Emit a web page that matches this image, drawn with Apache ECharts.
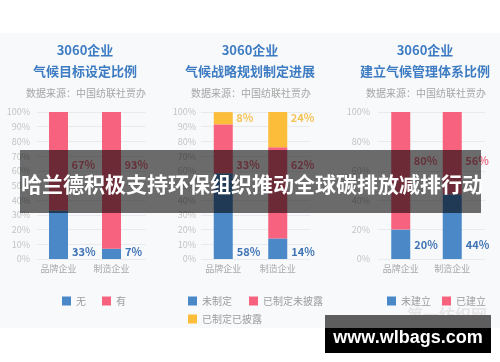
<!DOCTYPE html>
<html>
<head>
<meta charset="utf-8">
<script src="https://cdn.jsdelivr.net/npm/echarts@6/dist/echarts.min.js"></script>
<style>
html,body{margin:0;padding:0;background:#ffffff;}
#c{width:500px;height:362px;}
</style>
</head>
<body>
<div id="c"></div>
<script>
// ---- data ----
const categories = ['品牌企业', '制造企业'];

// Panel 1: 气候目标设定比例
const p1Names = ['无', '有'];
const p1None = [33, 7];
const p1Has = [67, 93];

// Panel 2: 气候战略规划制定进展
const p2Names = ['未制定', '已制定未披露', '已制定已披露'];
const p2NotSet = [58.3, 14];
const p2SetUndisclosed = [33.3, 62];
const p2SetDisclosed = [8.3, 24];

// Panel 3: 建立气候管理体系比例
const p3Names = ['未建立', '已建立'];
const p3NotBuilt = [20, 44];
const p3Built = [80, 56];

const titleTop = '3060企业';
const panelTitles = ['气候目标设定比例', '气候战略规划制定进展', '建立气候管理体系比例'];
const sourceText = '数据来源：中国纺联社贾办';
const bannerText = '哈兰德积极支持环保组织推动全球碳排放减排行动';
const siteText = 'www.wlbags.com';
const faintMark = '第一纺织网';

// ---- styles ----
const BLUE = '#4a88c8';
const PINK = '#f7627e';
const YELLOW = '#fbbd3a';
const TITLE = '#3d7cc2';
const FONT = '"Noto Sans CJK SC", "Noto Sans", sans-serif';

const chart = echarts.init(document.getElementById('c'));

const gridTop = 112, gridBottom = 103;
const panels = [
  {axL: 37, axR: 146, bL: 32, bR: 138, interval: 10, margin: 7, cx: 85},
  {axL: 201, axR: 310, bL: 196, bR: 305, interval: 10, margin: 5, cx: 250},
  {axL: 378, axR: 485, bL: 375, bR: 478, interval: 20, margin: 8, cx: 425}
];

const grid = [], xAxis = [], yAxis = [];
panels.forEach((p) => {
  grid.push({left: p.axL, width: p.axR - p.axL, top: gridTop, bottom: gridBottom});
  grid.push({left: p.bL, width: p.bR - p.bL, top: gridTop, bottom: gridBottom});
  const ag = grid.length - 2, bg = grid.length - 1;
  xAxis.push({type: 'category', gridIndex: ag, data: categories, show: false});
  xAxis.push({
    type: 'category', gridIndex: bg, data: categories,
    axisLine: {show: false}, axisTick: {show: false},
    axisLabel: {color: '#a8a8a8', fontSize: 9, margin: 5, fontFamily: FONT}
  });
  yAxis.push({
    type: 'value', gridIndex: ag, min: 0, max: 100, interval: p.interval,
    axisLine: {show: false}, axisTick: {show: false},
    axisLabel: {formatter: '{value}%', color: '#c4c4c4', fontSize: 9, margin: p.margin, fontFamily: FONT},
    splitLine: {lineStyle: {color: '#e9eaee', width: 1}}
  });
  yAxis.push({type: 'value', gridIndex: bg, min: 0, max: 100, show: false});
});

function pct(v) { return Math.round(v) + '%'; }

function blueBar(name, data, axisIdx, offY) {
  return {
    name: name, type: 'bar', stack: 's' + axisIdx, xAxisIndex: axisIdx, yAxisIndex: axisIdx,
    barWidth: 19, data: data, itemStyle: {color: BLUE},
    label: {
      show: true, position: ['100%', '100%'], align: 'left', verticalAlign: 'bottom',
      offset: [4, offY], color: '#3f73b4', fontSize: 11, fontWeight: 'bold', fontFamily: FONT,
      formatter: (p) => pct(p.value)
    }
  };
}
function plainBar(name, data, axisIdx, color) {
  return {
    name: name, type: 'bar', stack: 's' + axisIdx, xAxisIndex: axisIdx, yAxisIndex: axisIdx,
    barWidth: 19, data: data, itemStyle: {color: color}
  };
}
function labelSeries(data, level, axisIdx, color) {
  return {
    type: 'scatter', xAxisIndex: axisIdx, yAxisIndex: axisIdx, symbolSize: 0, silent: true,
    data: data.map((v, i) => ({value: [i, level], pctVal: v})),
    label: {
      show: true, position: 'right', distance: 13, color: color,
      fontSize: 11, fontWeight: 'bold', fontFamily: FONT,
      formatter: (p) => pct(p.data.pctVal)
    }
  };
}

const series = [
  blueBar(p1Names[0], p1None, 1, -2),
  plainBar(p1Names[1], p1Has, 1, PINK),
  labelSeries(p1Has, 64, 1, '#e9506c'),

  blueBar(p2Names[0], p2NotSet, 3, -2),
  plainBar(p2Names[1], p2SetUndisclosed, 3, PINK),
  plainBar(p2Names[2], p2SetDisclosed, 3, YELLOW),
  labelSeries(p2SetUndisclosed, 64, 3, '#e9506c'),
  labelSeries(p2SetDisclosed, 96, 3, '#f4b42c'),

  blueBar(p3Names[0], p3NotBuilt, 5, -9),
  plainBar(p3Names[1], p3Built, 5, PINK),
  labelSeries(p3Built, 67, 5, '#e9506c')
];

const legendBase = {
  orient: 'horizontal', itemWidth: 9, itemHeight: 9, icon: 'rect',
  textStyle: {color: '#9c9c9c', fontSize: 10, fontFamily: FONT}, selectedMode: false
};
const legend = [
  Object.assign({}, legendBase, {left: 57, top: 291, itemGap: 16, data: p1Names}),
  Object.assign({}, legendBase, {left: 183, top: 291, itemGap: 17, data: p2Names.slice(0, 2)}),
  Object.assign({}, legendBase, {left: 183, top: 309, itemGap: 17, data: p2Names.slice(2)}),
  Object.assign({}, legendBase, {left: 382, top: 291, itemGap: 11, data: p3Names})
];

const graphic = [
  {type: 'rect', z: -10, shape: {x: 0, y: 33, width: 500, height: 295}, style: {fill: '#f8f9fb'}}
];
panels.forEach((p, i) => {
  graphic.push({type: 'text', z: 10, x: p.cx, y: 50, style: {text: titleTop, fill: TITLE, font: 'bold 13px ' + FONT, textAlign: 'center', textVerticalAlign: 'middle'}});
  graphic.push({type: 'text', z: 10, x: p.cx, y: 71, style: {text: panelTitles[i], fill: TITLE, font: 'bold 13px ' + FONT, textAlign: 'center', textVerticalAlign: 'middle'}});
  graphic.push({type: 'text', z: 10, x: p.cx + 1, y: 93, style: {text: sourceText, fill: '#a5a5a5', font: '10px ' + FONT, textAlign: 'center', textVerticalAlign: 'middle'}});
});
graphic.push(
  {type: 'text', z: 10, x: 447, y: 315, style: {text: faintMark, fill: '#e6e6e6', font: 'bold 16px ' + FONT, textAlign: 'center', textVerticalAlign: 'middle'}},
  {type: 'rect', z: 100, shape: {x: 20, y: 150, width: 461, height: 63}, style: {fill: 'rgba(0,0,0,0.57)'}},
  {type: 'text', z: 101, x: 21, y: 184, style: {text: bannerText, fill: '#ffffff', font: 'bold 21px ' + FONT, textAlign: 'left', textVerticalAlign: 'middle'}},
  {type: 'rect', z: 100, shape: {x: 325, y: 315, width: 166, height: 13}, style: {fill: '#5e5e5e'}},
  {type: 'rect', z: 100, shape: {x: 325, y: 328, width: 166, height: 25}, style: {fill: '#000000'}},
  {type: 'text', z: 101, x: 408, y: 338, style: {text: siteText, fill: '#ffffff', font: 'bold 18px "Liberation Sans", Arial, sans-serif', textAlign: 'center', textVerticalAlign: 'middle'}}
);

chart.setOption({
  animation: false,
  grid: grid, xAxis: xAxis, yAxis: yAxis, series: series, legend: legend, graphic: graphic
});
</script>
</body>
</html>
